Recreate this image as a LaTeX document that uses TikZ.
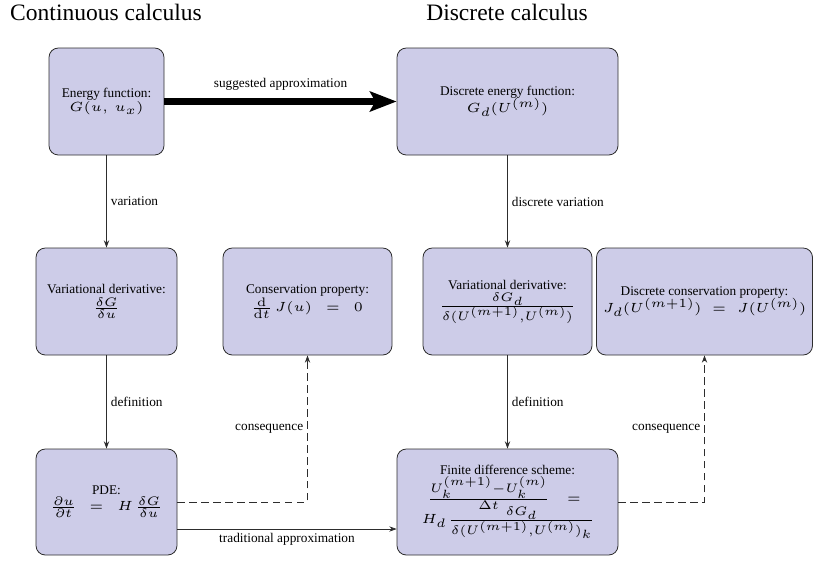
\documentclass[tikz,border=0pt]{standalone}
\usepackage{amsmath}
\usepackage[no-math]{fontspec}
\setmainfont{Liberation Serif}
\newfontfamily\tms{Liberation Serif}
% wide (small design size) math fonts, as in the reference
\DeclareFontFamily{OML}{wcmm}{\skewchar\font127 }
\DeclareFontShape{OML}{wcmm}{m}{it}{<-> cmmi5}{}
\DeclareFontFamily{OT1}{wcmr}{\hyphenchar\font45 }
\DeclareFontShape{OT1}{wcmr}{m}{n}{<-> cmr5}{}
\DeclareFontFamily{OMS}{wcmsy}{\skewchar\font48 }
\DeclareFontShape{OMS}{wcmsy}{m}{n}{<-> cmsy5}{}
\DeclareSymbolFont{letters}{OML}{wcmm}{m}{it}
\DeclareSymbolFont{operators}{OT1}{wcmr}{m}{n}
\DeclareSymbolFont{symbols}{OMS}{wcmsy}{m}{n}
\DeclareMathSizes{10}{10}{9.3}{9}
\usetikzlibrary{arrows.meta}
\definecolor{boxfill}{RGB}{205,204,232}
\definecolor{linec}{RGB}{45,45,45}
\tikzset{
  box/.style={draw=linec, line width=0.6pt, fill=boxfill, rounded corners=7pt, align=center, inner sep=0pt, font=\tms},
  arr/.style={draw=linec, line width=0.55pt, -{Stealth[length=5.5pt,width=4pt]}},
  dasharr/.style={arr, dash pattern=on 5.5pt off 3.5pt},
  bigarr/.style={draw=black, line width=5.2pt, -{Stealth[length=20pt,width=15pt,inset=4pt]}},
  lbl/.style={font=\tms, text=black, inner sep=3pt},
  title/.style={font=\tms\fontsize{17.7}{20}\selectfont, inner sep=0pt}
}
\begin{document}
\begin{tikzpicture}[x=0.752pt, y=-0.752pt]
\useasboundingbox (0,0) rectangle (813,560);
\node[title] (t1) at (106,12) {Continuous calculus};
\node[title] (t2) at (507,12) {Discrete calculus};

\node[box, minimum width=0.752*115pt, minimum height=0.752*107pt] (B1) at (106.5,101.5)
  {Energy function:\\[-1pt] $G(u,\,u_x)$};
\node[box, minimum width=0.752*221pt, minimum height=0.752*107pt] (B2) at (507.5,101.5)
  {Discrete energy function:\\[-1pt] $G_d(U^{(m)})$};
\node[box, minimum width=0.752*141pt, minimum height=0.752*107pt] (B3) at (106.5,301.5)
  {Variational derivative:\\[1.5pt] $\frac{\delta G}{\delta u}$};
\node[box, minimum width=0.752*169pt, minimum height=0.752*107pt] (B4) at (307.5,301.5)
  {Conservation property:\\[0pt] $\frac{\mathrm{d}}{\mathrm{d}t}\,J(u)\;\,=\;\,0$};
\node[box, minimum width=0.752*169pt, minimum height=0.752*107pt] (B5) at (507.5,301.5)
  {Variational derivative:\\[1.5pt] $\frac{\delta G_d}{\delta(U^{(m+1)},U^{(m)})}$};
\node[box, minimum width=0.752*216pt, minimum height=0.752*107pt] (B6) at (704.5,301.5)
  {Discrete conservation property:\\[-1pt] $J_d(U^{(m+1)})\;=\;J(U^{(m)})$};
\node[box, minimum width=0.752*141pt, minimum height=0.752*106pt] (B7) at (106.5,502)
  {PDE:\\[0pt] $\frac{\partial u}{\partial t}\;\,=\;\,H\,\frac{\delta G}{\delta u}$};
\node[box, minimum width=0.752*221pt, minimum height=0.752*106pt] (B8) at (507.5,502)
  {Finite difference scheme:\\[0pt] $\frac{U_k^{(m+1)}-U_k^{(m)}}{\Delta t}\quad=\;$\\[-3pt] $H_d\,\frac{\delta G_d}{\delta(U^{(m+1)},U^{(m)})_k}$};

\draw[bigarr] (B1.east) -- node[lbl, above=3pt] {suggested approximation} (B2.west);
\draw[arr] (B1.south) -- node[lbl, right] {variation} (B3.north);
\draw[arr] (B2.south) -- node[lbl, right] {discrete variation} (B5.north);
\draw[arr] (B3.south) -- node[lbl, right] {definition} (B7.north);
\draw[arr] (B5.south) -- node[lbl, right] {definition} (B8.north);
\draw[dasharr] (B7.east) -| node[lbl, left, pos=0.75] {consequence} (B4.south);
\draw[dasharr] (B8.east) -| node[lbl, left, pos=0.75] {consequence} (B6.south);
\draw[arr] ([yshift=-0.752*27pt]B7.east) -- node[lbl, below] {traditional approximation} ([yshift=-0.752*27pt]B8.west);
\end{tikzpicture}
\end{document}
